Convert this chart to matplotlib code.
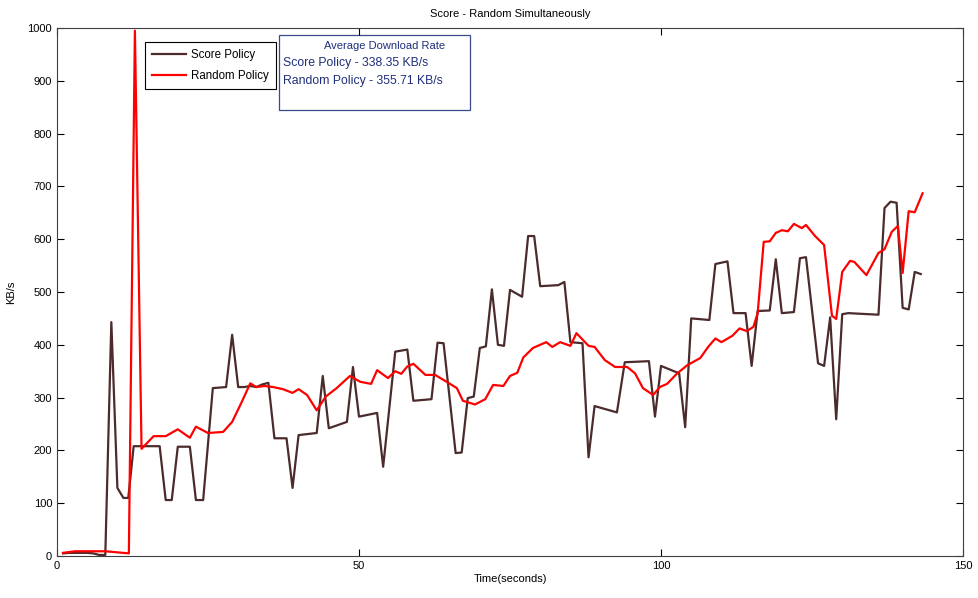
import matplotlib
matplotlib.use("Agg")
import matplotlib.pyplot as plt
from matplotlib.patches import Rectangle

plt.rcParams['font.family'] = ['Liberation Sans', 'DejaVu Sans']

# Score Policy samples (time in s, rate in KB/s)
score_t = [1, 2, 3, 4, 5, 6, 7, 8, 9, 10, 11, 11.8, 12.7, 17, 18, 19, 20, 22, 23, 24.2,
           25.8, 28, 29, 30, 31, 32, 33, 34, 35, 36, 38, 39, 40, 43, 44, 45, 48, 49, 50, 53,
           54, 56, 58, 59, 62, 63, 64, 66, 67, 68, 69, 70, 71, 72, 73, 74, 75, 77, 78, 79,
           80, 83, 84, 85, 87, 88, 89, 92.7, 94, 98, 99, 100, 103, 104, 105, 108, 109, 111,
           112, 114, 115, 116, 118, 119, 120, 122, 123, 124, 126, 127, 128, 129, 130, 131,
           136, 137, 138, 139, 140, 141, 142, 143]
score_v = [5, 6, 6, 6, 6, 5, 2, 2, 443, 129, 110, 110, 208, 208, 106, 106, 207, 207, 106, 106,
           318, 320, 419, 320, 320, 322, 320, 325, 328, 223, 223, 129, 229, 233, 341, 242, 254, 358, 264, 271,
           169, 387, 391, 294, 297, 404, 403, 195, 196, 299, 302, 394, 397, 505, 400, 398, 504, 491, 606, 606,
           511, 513, 519, 405, 403, 187, 284, 272, 367, 369, 264, 360, 346, 244, 450, 447, 553, 558,
           460, 460, 360, 464, 465, 562, 460, 462, 564, 566, 365, 360, 452, 259, 458, 460,
           457, 659, 671, 669, 470, 467, 538, 534]

# Random Policy samples
random_t = [1, 3, 8, 11.9, 12.9, 14, 16, 18, 20, 22, 23, 25, 27.5, 29, 30.6, 32, 33, 34.4, 35.8,
            37.4, 39, 40, 41.4, 43, 44.5, 46.3, 48.5, 50.2, 52, 53, 54.8, 56, 57, 58, 59, 61,
            62.6, 64.5, 66.2, 67.2, 69.2, 70.9, 72.2, 73.9, 75, 76.2, 77.2, 78.8, 81, 82, 83.3,
            85, 86, 88, 89, 90.7, 92.4, 94.4, 95.7, 97, 98.7, 99.8, 101, 102.6, 104.3, 106.5,
            107.8, 109, 110, 111.8, 113, 114.2, 115.3, 116, 117, 118, 119, 120, 121, 122, 123.3,
            124, 125.5, 127, 128.3, 129, 130, 131.3, 132, 134, 136, 137, 138.2, 139.2, 140, 141,
            142, 143.3]
random_v = [6, 9, 9, 5, 995, 203, 227, 227, 240, 224, 245, 233, 235, 254, 292, 327, 320, 322, 320,
            316, 309, 316, 305, 276, 302, 318, 341, 330, 326, 352, 337, 350, 345, 359, 364, 343,
            343, 330, 318, 294, 287, 297, 324, 322, 341, 347, 376, 394, 405, 396, 405,
            398, 422, 398, 396, 371, 358, 358, 346, 318, 305, 320, 326, 345, 361, 375,
            396, 412, 405, 417, 431, 426, 434, 460, 595, 596, 612, 617, 615, 629, 621,
            627, 606, 589, 455, 449, 538, 559, 557, 532, 574, 581, 614, 625, 536, 653,
            651, 687]

avg_score = 338.35
avg_random = 355.71

fig = plt.figure(figsize=(9.79, 5.98), dpi=100)
ax = fig.add_axes([0.0582, 0.0702, 0.9255, 0.883])

ax.plot(score_t, score_v, color='#4b2b2b', lw=1.6, label='Score Policy')
ax.plot(random_t, random_v, color='#ff0000', lw=1.6, label='Random Policy')

ax.set_xlim(0, 150)
ax.set_ylim(0, 1000)
ax.set_xticks([0, 50, 100, 150])
ax.set_yticks(range(0, 1001, 100))
ax.tick_params(direction='in', top=True, right=True, labelsize=8, length=5)
for s in ax.spines.values():
    s.set_color('#404040')
    s.set_linewidth(0.8)

ax.set_title('Score - Random Simultaneously', fontsize=8, pad=8)
ax.set_xlabel('Time(seconds)', fontsize=8, labelpad=2)
ax.set_ylabel('KB/s', fontsize=8, labelpad=8)

leg = ax.legend(loc='upper left', bbox_to_anchor=(0.097, 0.974), fontsize=8.3,
                fancybox=False, framealpha=1, edgecolor='black', handlelength=3.0,
                handletextpad=0.4, borderpad=0.6, labelspacing=0.8, borderaxespad=0)
leg.get_frame().set_linewidth(0.8)

# annotation box with averages
ax.add_patch(Rectangle((0.245, 0.845), 0.211, 0.142, transform=ax.transAxes,
                       fill=False, edgecolor='#3b4a8a', lw=0.9))
navy = '#1f2f7a'
ax.text(0.362, 0.966, 'Average Download Rate', transform=ax.transAxes, ha='center',
        va='center', fontsize=8, color=navy)
ax.text(0.250, 0.933, f'Score Policy - {avg_score} KB/s', transform=ax.transAxes,
        ha='left', va='center', fontsize=8.8, color=navy)
ax.text(0.250, 0.900, f'Random Policy - {avg_random} KB/s', transform=ax.transAxes,
        ha='left', va='center', fontsize=8.8, color=navy)

fig.savefig('out.png', dpi=100)
